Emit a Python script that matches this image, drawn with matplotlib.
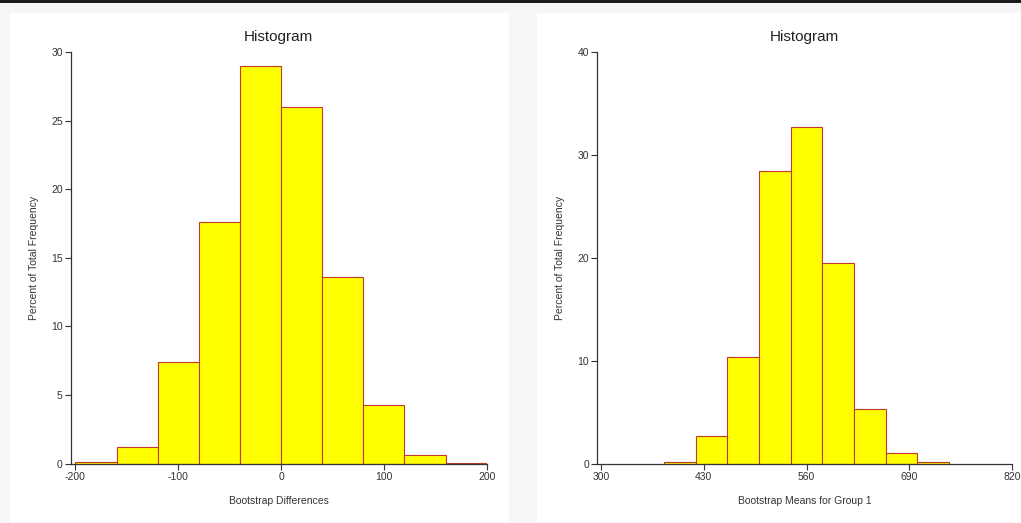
import numpy as np
import matplotlib
matplotlib.use('Agg')
import matplotlib.pyplot as plt
from matplotlib.patches import Rectangle

plt.rcParams['font.family'] = ['Liberation Sans', 'DejaVu Sans']
plt.rcParams['axes.unicode_minus'] = False

# Bootstrap differences histogram (percent of total frequency)
diff_edges = [-200, -160, -120, -80, -40, 0, 40, 80, 120, 160, 200]
diff_pct = [0.1, 1.2, 7.4, 17.6, 28.95, 26.0, 13.6, 4.3, 0.6, 0.05]

# Bootstrap means for group 1
mean_edges = [380, 420, 460, 500, 540, 580, 620, 660, 700, 740]
mean_pct = [0.1, 2.65, 10.4, 28.4, 32.7, 19.5, 5.3, 1.0, 0.1]

diff_ticks = [-200, -100, 0, 100, 200]
mean_ticks = [300, 430, 560, 690, 820]

fig = plt.figure(figsize=(10.21, 5.23), dpi=100)
fig.patch.set_facecolor('#f6f6f6')

# white panels and the dark strip at the top
W, H = 1021, 523
fig.add_artist(Rectangle((10 / W, 0), 499 / W, 510 / H, transform=fig.transFigure,
                         facecolor='white', edgecolor='none', zorder=0))
fig.add_artist(Rectangle((537 / W, 0), 484 / W, 510 / H, transform=fig.transFigure,
                         facecolor='white', edgecolor='none', zorder=0))
fig.add_artist(Rectangle((0, 520 / H), 1, 3 / H, transform=fig.transFigure,
                         facecolor='#1a1a1a', edgecolor='none', zorder=0))


def draw_hist(ax, edges, pct, ticks, ymax, ystep, xlabel):
    edges = np.array(edges)
    ax.bar(edges[:-1], pct, width=np.diff(edges), align='edge',
           color='#ffff00', edgecolor='#c0392b', linewidth=0.8, zorder=2)
    ax.set_facecolor('none')
    ax.set_ylim(0, ymax)
    ax.set_yticks(np.arange(0, ymax + 1, ystep))
    ax.set_xticks(ticks)
    for s in ['top', 'right']:
        ax.spines[s].set_visible(False)
    for s in ['left', 'bottom']:
        ax.spines[s].set_color('#333333')
        ax.spines[s].set_linewidth(0.9)
    ax.tick_params(length=4, width=0.8, color='#333333', labelsize=7.5,
                   labelcolor='#333333', pad=2)
    ax.set_title('Histogram', fontsize=11, color='#222222', pad=8)
    ax.set_xlabel(xlabel, fontsize=7.5, color='#333333', labelpad=10)
    ax.set_ylabel('Percent of Total Frequency', fontsize=7.5, color='#333333', labelpad=9)


ax1 = fig.add_axes([71 / W, 59.5 / H, (486.7 - 71) / W, (463.5 - 52) / H])
ax1.set_xlim(-204.3, 200)
draw_hist(ax1, diff_edges, diff_pct, diff_ticks, 30, 5, 'Bootstrap Differences')

ax2 = fig.add_axes([597.3 / W, 59.5 / H, (1012.3 - 597.3) / W, (463.5 - 52) / H])
ax2.set_xlim(295.6, 820)
draw_hist(ax2, mean_edges, mean_pct, mean_ticks, 40, 10, 'Bootstrap Means for Group 1')

fig.savefig('out.png', dpi=100, facecolor=fig.get_facecolor())
